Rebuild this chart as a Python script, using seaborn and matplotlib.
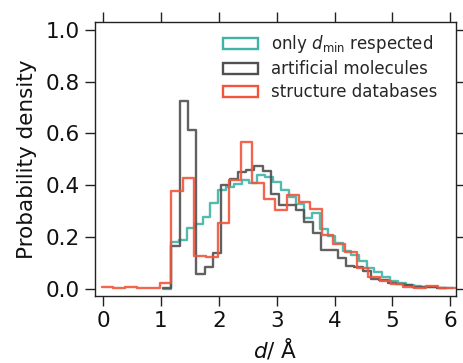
import numpy as np
import pandas as pd
import matplotlib
matplotlib.use("Agg")
import matplotlib.pyplot as plt
from matplotlib.patches import Patch
import seaborn as sns

# ---- data ----
labels = ["only $d_\\mathrm{min}$ respected", "artificial molecules", "structure databases"]
colors = ["#3fb4a6", "#505050", "#f2553b"]

# only d_min respected (bin width ~0.135, first edge 1.045)
teal_start, teal_width = 1.045, 0.135
teal_values = [0.0, 0.179, 0.189, 0.234, 0.250, 0.278, 0.331, 0.382, 0.394, 0.404,
               0.420, 0.410, 0.440, 0.432, 0.412, 0.380, 0.355, 0.328, 0.272,
               0.292, 0.232, 0.205, 0.175, 0.144, 0.131, 0.108, 0.080, 0.064,
               0.044, 0.031, 0.022, 0.012, 0.009, 0.007, 0.005, 0.004, 0.002]

# artificial molecules (bin width ~0.1437, first edge 1.036)
black_start, black_width = 1.036, 0.1437
black_values = [0.003, 0.163, 0.725, 0.615, 0.056, 0.082, 0.136, 0.400, 0.425,
                0.452, 0.458, 0.475, 0.455, 0.365, 0.322, 0.324, 0.302, 0.257,
                0.216, 0.150, 0.148, 0.120, 0.088, 0.082, 0.068, 0.038, 0.035,
                0.022, 0.016, 0.012, 0.008, 0.007, 0.006, 0.003]

# structure databases (bin width 0.2, first edge -0.02)
red_start, red_width = -0.02, 0.2
red_values = [0.008, 0.003, 0.007, 0.004, 0.004, 0.020, 0.376, 0.428, 0.127,
              0.123, 0.252, 0.420, 0.567, 0.408, 0.348, 0.303, 0.360, 0.336,
              0.306, 0.207, 0.172, 0.140, 0.080, 0.043, 0.028, 0.019, 0.006,
              0.004, 0.009, 0.004, 0.003]

x_ticks = [0, 1, 2, 3, 4, 5, 6]
y_ticks = [0.0, 0.2, 0.4, 0.6, 0.8, 1.0]

series = [
    (teal_start, teal_width, teal_values),
    (black_start, black_width, black_values),
    (red_start, red_width, red_values),
]

# ---- plot ----
sns.set_style("ticks")
plt.rcParams["font.family"] = ["DejaVu Sans"]

fig = plt.figure(figsize=(4.63, 3.63), dpi=100)
ax = fig.add_axes([0.205, 0.185, 0.78, 0.754])

lw = 1.7
for (start, width, vals), col in zip(series, colors):
    n = len(vals)
    edges = [start + width * i for i in range(n + 1)]
    centers = [0.5 * (edges[i] + edges[i + 1]) for i in range(n)]
    df = pd.DataFrame({"d": centers, "w": list(vals)})
    sns.histplot(data=df, x="d", weights="w", bins=edges, stat="count",
                 element="step", fill=False, color=col, linewidth=lw,
                 alpha=0.9, ax=ax)

ax.set_xlim(-0.14, 6.1)
ax.set_ylim(-0.028, 1.03)
ax.set_xticks(x_ticks)
ax.set_yticks(y_ticks)
ax.set_yticklabels([f"{v:.1f}" for v in y_ticks])
ax.tick_params(direction="out", length=7, width=1.0, labelsize=15.5,
               top=True, right=True, pad=4, color="#222222",
               labelcolor="#111111")
for sp in ax.spines.values():
    sp.set_linewidth(1.0)
    sp.set_color("#222222")

ax.set_xlabel("$d$/ Å", fontsize=15.5, labelpad=4, color="#111111")
ax.set_ylabel("Probability density", fontsize=15.5, labelpad=6, color="#111111")

handles = [Patch(facecolor="none", edgecolor=c, linewidth=lw) for c in colors]
ax.legend(handles, labels, loc="upper right", frameon=False, fontsize=12,
          handlelength=2.1, handletextpad=0.8, labelspacing=0.3,
          borderaxespad=0.35, bbox_to_anchor=(0.983, 1.005))

fig.savefig("out.png", dpi=100)
